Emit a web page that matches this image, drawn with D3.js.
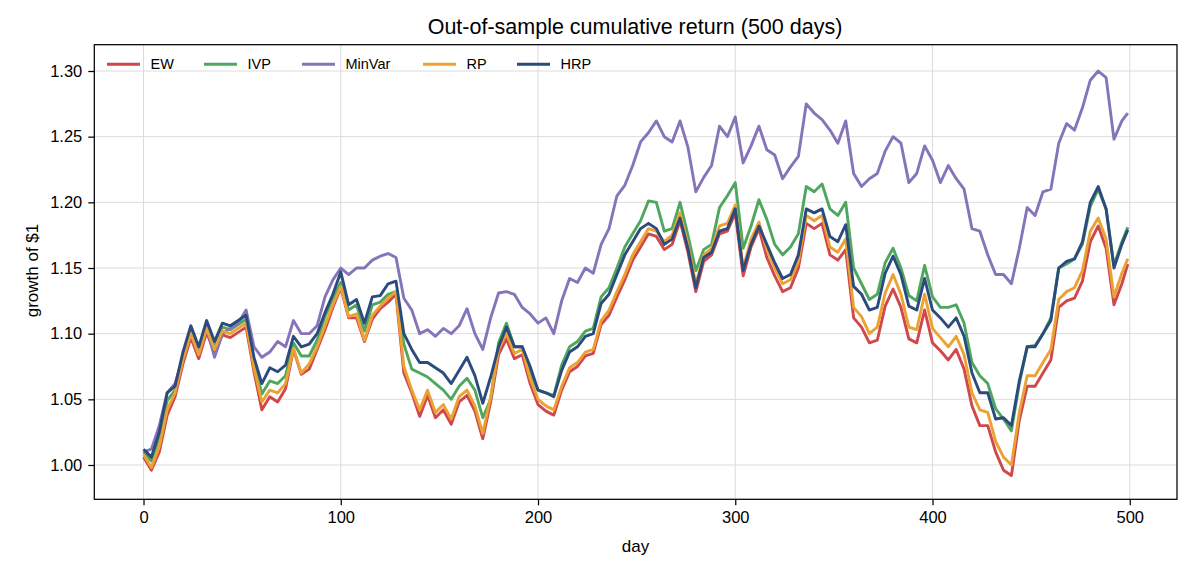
<!DOCTYPE html>
<html>
<head>
<meta charset="utf-8">
<title>Out-of-sample cumulative return</title>
<script src="https://d3js.org/d3.v7.min.js"></script>
<style>
  body { margin: 0; background: #fff; }
  svg text { font-family: "Liberation Sans", Arial, Helvetica, sans-serif; fill: #000; }
  .axis text { font-size: 16.5px; }
  .axis path, .axis line { stroke: #000; stroke-width: 1.25; }
  .grid line { stroke: #dcdcdc; stroke-width: 1; }
  .series { fill: none; stroke-width: 2.9; stroke-linejoin: round; }
</style>
</head>
<body>
<script>
// sampled trading days (every 4th day, plus the last one)
const days = [0,4,8,12,16,20,24,28,32,36,40,44,48,52,56,60,64,68,72,76,
  80,84,88,92,96,100,104,108,112,116,120,124,128,132,136,140,144,148,152,156,
  160,164,168,172,176,180,184,188,192,196,200,204,208,212,216,220,224,228,232,236,
  240,244,248,252,256,260,264,268,272,276,280,284,288,292,296,300,304,308,312,316,
  320,324,328,332,336,340,344,348,352,356,360,364,368,372,376,380,384,388,392,396,
  400,404,408,412,416,420,424,428,432,436,440,444,448,452,456,460,464,468,472,476,
  480,484,488,492,496,499];

const ew = [1.006,0.996,1.010,1.038,1.052,1.077,1.097,1.081,1.101,1.085,
  1.099,1.097,1.101,1.105,1.071,1.042,1.052,1.048,1.058,1.088,
  1.069,1.073,1.088,1.103,1.120,1.135,1.112,1.112,1.094,1.111,
  1.119,1.124,1.130,1.070,1.055,1.037,1.053,1.036,1.042,1.031,
  1.048,1.053,1.041,1.020,1.048,1.084,1.096,1.081,1.084,1.062,
  1.046,1.041,1.038,1.057,1.071,1.075,1.083,1.085,1.107,1.114,
  1.128,1.141,1.156,1.166,1.176,1.174,1.164,1.168,1.186,1.162,
  1.132,1.155,1.160,1.176,1.178,1.192,1.144,1.166,1.180,1.158,
  1.144,1.132,1.135,1.150,1.184,1.180,1.184,1.160,1.156,1.164,
  1.112,1.105,1.093,1.095,1.121,1.134,1.120,1.096,1.093,1.118,
  1.093,1.087,1.080,1.088,1.073,1.045,1.030,1.030,1.010,0.996,
  0.992,1.034,1.060,1.060,1.070,1.080,1.120,1.125,1.127,1.140,
  1.170,1.182,1.165,1.122,1.138,1.153];

const ivp = [1.010,1.003,1.021,1.049,1.057,1.083,1.103,1.087,1.107,1.091,
  1.105,1.103,1.107,1.111,1.078,1.054,1.064,1.062,1.068,1.093,
  1.083,1.083,1.095,1.113,1.127,1.139,1.118,1.122,1.102,1.122,
  1.124,1.130,1.132,1.092,1.073,1.070,1.067,1.062,1.057,1.050,
  1.060,1.066,1.057,1.036,1.050,1.093,1.108,1.090,1.090,1.070,
  1.057,1.055,1.053,1.076,1.090,1.094,1.102,1.104,1.128,1.135,
  1.150,1.166,1.176,1.186,1.201,1.200,1.178,1.180,1.200,1.175,
  1.148,1.164,1.168,1.196,1.205,1.215,1.165,1.182,1.202,1.187,
  1.168,1.160,1.166,1.176,1.212,1.208,1.214,1.195,1.190,1.200,
  1.150,1.138,1.126,1.130,1.154,1.165,1.150,1.129,1.125,1.152,
  1.128,1.120,1.120,1.122,1.108,1.078,1.068,1.062,1.043,1.035,
  1.026,1.062,1.090,1.091,1.100,1.112,1.150,1.153,1.157,1.168,
  1.197,1.210,1.195,1.152,1.170,1.181];

const minVar = [1.010,1.012,1.030,1.055,1.062,1.082,1.100,1.085,1.105,1.082,
  1.100,1.104,1.108,1.118,1.090,1.082,1.086,1.094,1.090,1.110,
  1.100,1.100,1.106,1.128,1.141,1.150,1.145,1.150,1.150,1.156,
  1.159,1.161,1.158,1.127,1.118,1.100,1.103,1.098,1.104,1.100,
  1.106,1.119,1.100,1.088,1.112,1.131,1.132,1.130,1.120,1.115,
  1.108,1.112,1.100,1.125,1.142,1.139,1.150,1.146,1.168,1.180,
  1.205,1.213,1.228,1.246,1.253,1.262,1.250,1.246,1.262,1.242,
  1.208,1.219,1.228,1.258,1.250,1.265,1.230,1.243,1.258,1.240,
  1.236,1.218,1.227,1.235,1.275,1.268,1.263,1.255,1.245,1.262,
  1.222,1.212,1.218,1.222,1.239,1.250,1.245,1.215,1.222,1.243,
  1.232,1.215,1.228,1.218,1.210,1.180,1.178,1.160,1.145,1.145,
  1.138,1.165,1.196,1.190,1.208,1.210,1.245,1.260,1.255,1.272,
  1.293,1.300,1.295,1.248,1.262,1.268];

const rp = [1.008,0.998,1.014,1.042,1.055,1.080,1.100,1.084,1.104,1.088,
  1.102,1.100,1.104,1.108,1.074,1.048,1.057,1.055,1.062,1.089,
  1.070,1.077,1.090,1.106,1.122,1.136,1.113,1.115,1.095,1.114,
  1.121,1.127,1.132,1.075,1.057,1.042,1.057,1.040,1.046,1.035,
  1.052,1.057,1.045,1.024,1.052,1.088,1.100,1.085,1.088,1.066,
  1.050,1.045,1.042,1.060,1.074,1.078,1.086,1.088,1.110,1.118,
  1.132,1.145,1.160,1.170,1.180,1.178,1.170,1.175,1.192,1.168,
  1.138,1.160,1.165,1.182,1.184,1.198,1.150,1.172,1.185,1.164,
  1.150,1.138,1.141,1.155,1.190,1.186,1.190,1.166,1.162,1.172,
  1.120,1.113,1.100,1.105,1.131,1.145,1.130,1.105,1.103,1.130,
  1.104,1.097,1.090,1.098,1.084,1.055,1.042,1.040,1.018,1.006,
  1.000,1.040,1.068,1.068,1.078,1.088,1.126,1.132,1.135,1.148,
  1.178,1.188,1.172,1.128,1.146,1.157];

const hrp = [1.012,1.006,1.025,1.055,1.060,1.086,1.106,1.090,1.110,1.094,
  1.108,1.106,1.110,1.114,1.082,1.062,1.074,1.071,1.076,1.098,
  1.090,1.092,1.100,1.116,1.130,1.147,1.122,1.126,1.108,1.128,
  1.129,1.138,1.140,1.100,1.088,1.078,1.078,1.074,1.070,1.062,
  1.072,1.082,1.068,1.047,1.067,1.090,1.105,1.090,1.090,1.075,
  1.057,1.055,1.052,1.072,1.086,1.090,1.098,1.100,1.123,1.130,
  1.145,1.160,1.170,1.180,1.184,1.180,1.168,1.172,1.188,1.165,
  1.135,1.158,1.162,1.178,1.180,1.195,1.148,1.168,1.182,1.168,
  1.154,1.142,1.145,1.160,1.195,1.192,1.195,1.174,1.170,1.183,
  1.136,1.130,1.118,1.120,1.146,1.159,1.145,1.121,1.118,1.142,
  1.118,1.112,1.105,1.112,1.098,1.070,1.055,1.055,1.035,1.036,
  1.030,1.064,1.090,1.090,1.100,1.110,1.150,1.155,1.157,1.170,
  1.200,1.212,1.195,1.150,1.168,1.179];

const seriesNames = ['EW', 'IVP', 'MinVar', 'RP', 'HRP'];
const seriesColors = ['#d0474c', '#4fa75f', '#8574b9', '#eca232', '#2b4a7d'];
const xTicks = [0, 100, 200, 300, 400, 500];
const yTicks = [1.00, 1.05, 1.10, 1.15, 1.20, 1.25, 1.30];

const width = 1196, height = 572;
const margin = {top: 44.7, right: 1196 - 1177, bottom: 572 - 499.3, left: 94.3};

const svg = d3.select('body').append('svg')
  .attr('width', width).attr('height', height);

const x = d3.scaleLinear().domain([-24.95, 523.95]).range([margin.left, width - margin.right]);
const y = d3.scaleLinear().domain([0.97388, 1.32003]).range([height - margin.bottom, margin.top]);

// grid
const grid = svg.append('g').attr('class', 'grid');
grid.selectAll('.vg').data(xTicks).enter().append('line')
  .attr('x1', d => x(d)).attr('x2', d => x(d))
  .attr('y1', margin.top).attr('y2', height - margin.bottom);
grid.selectAll('.hg').data(yTicks).enter().append('line')
  .attr('x1', margin.left).attr('x2', width - margin.right)
  .attr('y1', d => y(d)).attr('y2', d => y(d));

// lines, drawn in legend order so HRP ends up on top
const allSeries = [ew, ivp, minVar, rp, hrp];
const line = d3.line().x((d, i) => x(days[i])).y(d => y(d));
svg.append('g').selectAll('path').data(allSeries).enter().append('path')
  .attr('class', 'series')
  .attr('stroke', (d, i) => seriesColors[i])
  .attr('d', line);

// frame
svg.append('rect')
  .attr('x', margin.left).attr('y', margin.top)
  .attr('width', width - margin.right - margin.left)
  .attr('height', height - margin.bottom - margin.top)
  .attr('fill', 'none').attr('stroke', '#000').attr('stroke-width', 1.25);

// axes
const xAxis = svg.append('g').attr('class', 'axis')
  .attr('transform', `translate(0,${height - margin.bottom})`)
  .call(d3.axisBottom(x).tickValues(xTicks).tickSize(6).tickPadding(6).tickFormat(d3.format('d')));
const yAxis = svg.append('g').attr('class', 'axis')
  .attr('transform', `translate(${margin.left},0)`)
  .call(d3.axisLeft(y).tickValues(yTicks).tickSize(6).tickPadding(6).tickFormat(d3.format('.2f')));
xAxis.select('.domain').remove();
yAxis.select('.domain').remove();

// labels
svg.append('text').attr('x', 635).attr('y', 34).attr('text-anchor', 'middle')
  .style('font-size', '21.5px').text('Out-of-sample cumulative return (500 days)');
svg.append('text').attr('x', 635.5).attr('y', 552).attr('text-anchor', 'middle')
  .style('font-size', '17px').text('day');
svg.append('text').attr('transform', 'translate(37.5,270.5) rotate(-90)').attr('text-anchor', 'middle')
  .style('font-size', '17px').text('growth of $1');

// legend
const legendX = [107, 204, 302, 423, 517];
const legend = svg.append('g').selectAll('g').data(seriesNames).enter().append('g')
  .attr('transform', (d, i) => `translate(${legendX[i]},64.3)`);
legend.append('line').attr('x1', 0).attr('x2', 33).attr('y1', 0).attr('y2', 0)
  .attr('stroke', (d, i) => seriesColors[i]).attr('stroke-width', 2.9);
legend.append('text').attr('x', 43.5).attr('y', 5).style('font-size', '14.5px').text(d => d);
</script>
</body>
</html>
